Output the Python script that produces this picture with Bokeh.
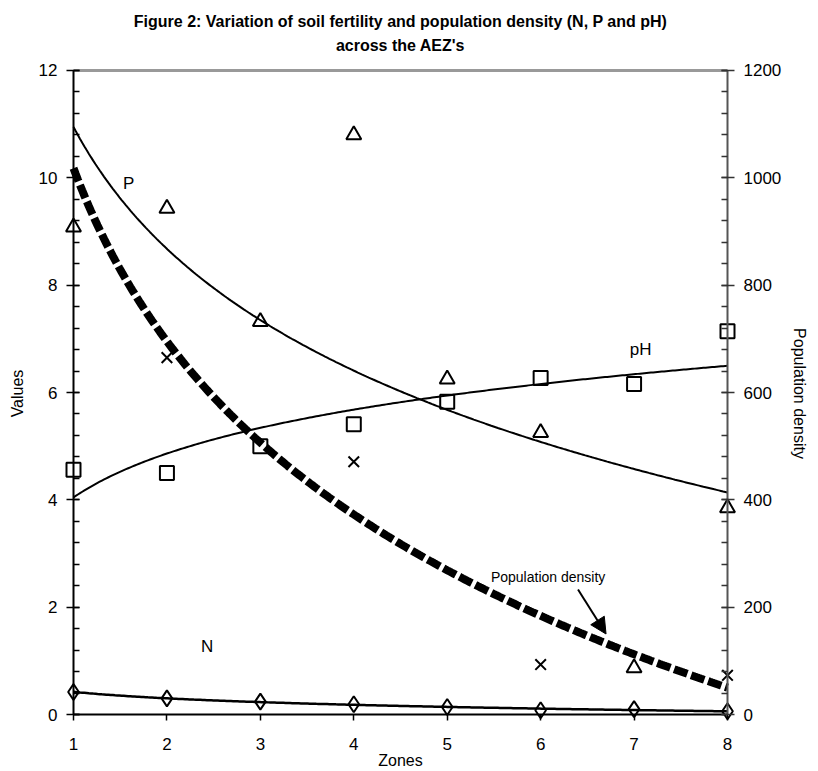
import numpy as np
from bokeh.plotting import figure
from bokeh.models import (Range1d, LinearAxis, FixedTicker, Label, Arrow, Title,
                          NormalHead, ColumnDataSource, CustomLabelingPolicy)
from bokeh.embed import file_html
from bokeh.resources import INLINE

# ---------------- data ----------------
zones = [1, 2, 3, 4, 5, 6, 7, 8]
P = [9.08, 9.43, 7.32, 10.80, 6.25, 5.25, 0.87, 3.85]
pH = [4.56, 4.50, 5.00, 5.41, 5.83, 6.27, 6.16, 7.14]
N = [0.42, 0.30, 0.24, 0.19, 0.14, 0.08, 0.10, 0.06]
pop_zones = [2, 4, 6, 8]
pop_density = [665, 471, 93, 73]

left_ticks = [0, 2, 4, 6, 8, 10, 12]
right_ticks = [0, 200, 400, 600, 800, 1000, 1200]

title_line1 = "Figure 2: Variation of soil fertility and population density (N, P and pH)"
title_line2 = "across the AEZ's"
FONT = "Liberation Sans"


def log_trend(xv, yv, xs):
    b, a = np.polyfit(np.log(np.asarray(xv, float)), np.asarray(yv, float), 1)
    return a + b * np.log(xs)


xs = np.linspace(1, 8, 300)
trend = ColumnDataSource(dict(
    x=xs,
    P=log_trend(zones, P, xs),
    pH=log_trend(zones, pH, xs),
    N=log_trend(zones, N, xs),
    pop=log_trend(pop_zones, pop_density, xs),
))

# the frame is padded a few pixels beyond the axes so edge markers are not clipped
XPX = 93.43   # px per zone
YPX = 53.75   # px per unit (left axis)
PL, PR, PT, PB = 9, 9, 4, 6
p = figure(width=818, height=771, output_backend="svg", toolbar_location=None,
           x_range=Range1d(1 - PL / XPX, 8 + PR / XPX),
           y_range=Range1d(0 - PB / YPX, 12 + PT / YPX),
           min_border_left=73 - PL, min_border_right=818 - 727 - PR,
           min_border_top=70 - PT, min_border_bottom=771 - 715 - PB)
p.extra_y_ranges = {"pop": Range1d(0 - PB / YPX * 100, 1200 + PT / YPX * 100)}
p.outline_line_color = None
p.grid.visible = False
p.background_fill_color = "white"
p.border_fill_color = "white"

# ---- label-only axes (at the frame edges) ----
xlab = p.xaxis[0]
ylab = p.yaxis[0]
xlab.ticker = FixedTicker(ticks=zones)
xlab.axis_label = "Zones"
ylab.ticker = FixedTicker(ticks=left_ticks)
ylab.axis_label = "Values"
rlab = LinearAxis(y_range_name="pop", axis_label="Population density",
                  ticker=FixedTicker(ticks=right_ticks))
p.add_layout(rlab, "right")

for ax in [xlab, ylab, rlab]:
    ax.axis_line_color = None
    ax.major_tick_line_color = None
    ax.minor_tick_line_color = None
    ax.major_tick_out = 0
    ax.major_tick_in = 0
    ax.minor_tick_out = 0
    ax.minor_tick_in = 0
    ax.axis_label_text_font = FONT
    ax.axis_label_text_font_style = "normal"
    ax.axis_label_text_font_size = "16px"
    ax.axis_label_text_color = "black"
    ax.major_label_text_font = FONT
    ax.major_label_text_font_size = "17px"
    ax.major_label_text_color = "black"

xlab.major_label_standoff = 17
xlab.axis_label_standoff = -1
ylab.major_label_standoff = 7
ylab.axis_label_standoff = 10
rlab.major_label_standoff = 7
rlab.axis_label_standoff = 7

# ---- line/tick axes placed exactly on the data edges (no labels) ----
no_labels = CustomLabelingPolicy(code="for (const i of indices) indices.unset(i)")
xline = LinearAxis(fixed_location=0, bounds=(1, 8), ticker=FixedTicker(ticks=zones))
yline = LinearAxis(fixed_location=1, bounds=(0, 12),
                   ticker=FixedTicker(ticks=left_ticks,
                                      minor_ticks=[round(0.4 * i, 1) for i in range(31)]))
rline = LinearAxis(fixed_location=8, bounds=(0, 1200), y_range_name="pop",
                   ticker=FixedTicker(ticks=right_ticks,
                                      minor_ticks=list(range(0, 1201, 40))))
tline = LinearAxis(fixed_location=12, bounds=(1, 8), ticker=FixedTicker(ticks=[]))
p.add_layout(xline, "below")
p.add_layout(yline, "left")
p.add_layout(rline, "right")
p.add_layout(tline, "above")

for ax in [xline, yline, rline, tline]:
    ax.major_label_policy = no_labels
    ax.axis_line_width = 2
    ax.major_tick_line_width = 1.5
    ax.minor_tick_line_width = 1.5

xline.axis_line_color = "black"
xline.major_tick_out = 7
xline.major_tick_in = 0
xline.minor_tick_line_color = None

yline.axis_line_color = "black"
yline.major_tick_out = 7
yline.major_tick_in = 6
yline.minor_tick_out = 0
yline.minor_tick_in = 6

rline.axis_line_color = "#555555"
rline.major_tick_line_color = "#333333"
rline.minor_tick_line_color = "#333333"
rline.major_tick_out = 7
rline.major_tick_in = 6
rline.minor_tick_out = 0
rline.minor_tick_in = 6

tline.axis_line_color = "#999999"
tline.axis_line_width = 3
tline.major_tick_line_color = None
tline.minor_tick_line_color = None

# trend curves
p.line("x", "P", source=trend, line_color="black", line_width=2)
p.line("x", "pH", source=trend, line_color="black", line_width=2)
p.line("x", "N", source=trend, line_color="black", line_width=2.5)
p.line("x", "pop", source=trend, y_range_name="pop", line_color="black",
       line_width=8, line_dash="14 4")

# data markers
p.scatter(zones, P, marker="triangle", size=15, fill_color=None,
          line_color="black", line_width=2)
p.scatter(zones, pH, marker="square", size=14, fill_color=None,
          line_color="black", line_width=2)
p.scatter(zones, N, marker="diamond", size=16, fill_color=None,
          line_color="black", line_width=2)
p.scatter(pop_zones, pop_density, marker="x", size=15, y_range_name="pop",
          line_color="black", line_width=2)

# text annotations
for txt, x, y, fs in [("P", 1.59, 9.90, "17px"), ("pH", 7.07, 6.81, "17px"),
                      ("N", 2.43, 1.27, "17px"),
                      ("Population density", 6.08, 2.57, "14px")]:
    p.add_layout(Label(x=x, y=y, text=txt, text_font=FONT, text_font_size=fs,
                       text_align="center", text_baseline="middle",
                       text_color="black"))

p.add_layout(Arrow(end=NormalHead(size=16, fill_color="black", line_color="black"),
                   x_start=6.40, y_start=2.33, x_end=6.70, y_end=1.50,
                   line_width=2, line_color="black"))

# two-line title
p.add_layout(Title(text=title_line1 + "\n" + title_line2, text_font=FONT,
                   text_font_size="16px", text_font_style="bold", align="center",
                   text_align="center", text_line_height=1.44, standoff=22,
                   vertical_align="top", text_color="black"), "above")

open("out.html", "w").write(file_html(p, INLINE))
